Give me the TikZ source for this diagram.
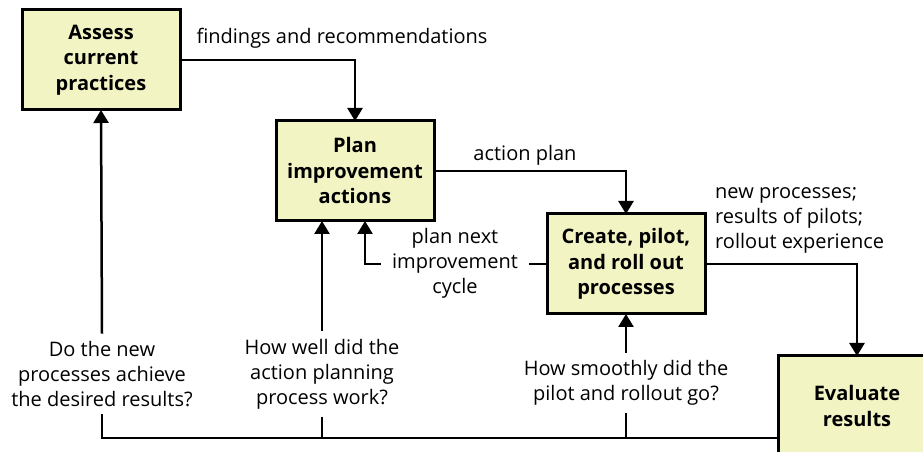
\documentclass[tikz,border=0pt]{standalone}
\usepackage{fontspec}
\setmainfont{Open Sans}
\usetikzlibrary{arrows.meta, positioning, calc}
\definecolor{boxfill}{RGB}{243,244,196}
\tikzset{
  stage/.style={
    rectangle,
    draw,
    line width=3pt,
    fill=boxfill,
    align=center,
    minimum width=158pt,
    minimum height=100pt,
    inner sep=4pt,
    outer sep=0pt,
    font=\bfseries\fontsize{20}{25.5}\selectfont
  },
  note/.style={
    align=center,
    inner xsep=7pt,
    inner ysep=7.5pt,
    font=\fontsize{20}{25}\selectfont
  },
  flow/.style={-{Triangle[length=13pt,width=15pt]}, line width=2.5pt},
  link/.style={line width=2.5pt}
}

\begin{document}
\begin{tikzpicture}
  \useasboundingbox (0,0) rectangle (923pt,452pt);

  \node[stage] (assess) at (101pt,392pt) {Assess\\current\\practices};
  \node[stage, below right=11pt and 96pt of assess] (plan)
        {Plan\\improvement\\actions};
  \node[stage, below right=-7pt and 113pt of plan] (create)
        {Create, pilot,\\and roll out\\processes};
  \node[stage, below right=42pt and 73pt of create] (eval)
        {Evaluate\\results};

  \node[note] (findings) at (342pt,414pt) {findings and recommendations};
  \node[note] (actplan) at (525pt,297pt) {action plan};
  \node[note, align=left, anchor=west] (outputs) at (708pt,232pt)
        {new processes;\\results of pilots;\\rollout experience};
  \node[note, inner xsep=11pt] (nextcycle) at (455pt,189pt)
        {plan next\\improvement\\cycle};

  \node[note] (qresults) at (102pt,78pt)
        {Do the new\\processes achieve\\the desired results?};
  \node[note] (qplanning) at (322pt,78pt)
        {How well did the\\action planning\\process work?};
  \node[note] (qrollout) at (626pt,69pt)
        {How smoothly did the\\pilot and rollout go?};
  \coordinate (base) at (0,14pt);

  \draw[flow] (assess.east) -| (plan.north);
  \draw[flow] (plan.east) -| (create.north);
  \draw[flow] (create.east) -| (eval.north);

  \draw[link] (create.west) -- (nextcycle.east |- create.west);
  \draw[flow] (nextcycle.west |- create.west) -| ($(plan.south)+(10pt,0)$);

  \draw[link] (eval.west |- base) -| (qresults.south);
  \draw[link] (qplanning.south) -- (qplanning.south |- base);
  \draw[link] (qrollout.south) -- (qrollout.south |- base);
  \draw[flow] (qresults.north) -- (assess.south);
  \draw[flow] (qplanning.north) -- (plan.south -| qplanning.north);
  \draw[flow] (qrollout.north) -- (create.south);
\end{tikzpicture}
\end{document}
